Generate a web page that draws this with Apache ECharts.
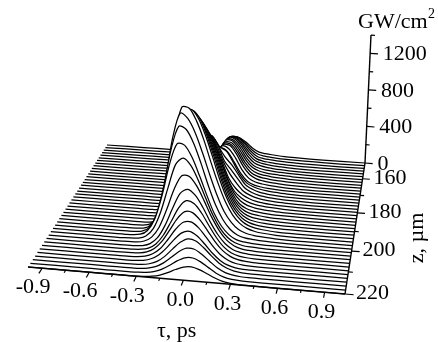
<!DOCTYPE html>
<html>
<head>
<meta charset="utf-8">
<script src="https://cdn.jsdelivr.net/npm/echarts@6/dist/echarts.min.js"></script>
<style>
  html, body { margin: 0; padding: 0; background: #fff; }
  #chart { width: 438px; height: 342px; }
</style>
</head>
<body>
<div id="chart"></div>
<script>
// tau samples, ps (the flat ends are zero in every curve)
var tauMid = [-0.4, -0.35, -0.3, -0.25, -0.2, -0.15, -0.1, -0.05, 0, 0.05, 0.1, 0.15, 0.2, 0.25, 0.3, 0.35, 0.4, 0.5]
var tauLeft = [-0.99, -0.7, -0.5]
var tauRight = [0.7, 1.03]

// z of each curve, um, front first
var zValues = [220, 218.25, 216.5, 214.75, 213, 211.25, 209.5, 207.75, 206, 204.25, 202.5, 200.75, 199, 197.25,
  195.5, 193.75, 192, 190.25, 188.5, 186.75, 185, 183.25, 181.5, 179.75, 178, 176.25, 174.5, 172.75, 171, 169.25,
  167.5, 165.75, 164, 162.25, 160.5, 158.75, 157, 155.25, 153.5, 151.75, 150]

// intensity, GW/cm2, one row per z, on tauMid
var intensity = [
  [0, 0, 1, 4, 12, 28, 56, 90, 117, 125, 107, 76, 44, 20, 8, 3, 1, 0],
  [0, 0, 2, 7, 20, 46, 87, 134, 168, 172, 143, 97, 53, 24, 9, 3, 1, 0],
  [0, 1, 3, 11, 30, 68, 124, 183, 221, 218, 176, 119, 65, 30, 12, 4, 1, 0],
  [0, 1, 5, 17, 44, 96, 168, 236, 274, 260, 206, 138, 78, 37, 15, 5, 1, 0],
  [0, 2, 9, 29, 70, 138, 222, 290, 310, 273, 203, 127, 67, 29, 11, 3, 1, 0],
  [1, 4, 14, 42, 96, 185, 285, 355, 365, 316, 233, 148, 78, 36, 14, 6, 2, 0],
  [2, 6, 21, 58, 129, 237, 350, 422, 419, 355, 262, 166, 90, 43, 18, 7, 3, 1],
  [1, 6, 23, 67, 156, 285, 421, 493, 472, 390, 277, 171, 89, 41, 18, 8, 4, 1],
  [1, 8, 32, 93, 214, 380, 526, 569, 517, 410, 279, 169, 88, 40, 18, 9, 5, 1],
  [4, 18, 60, 159, 329, 528, 661, 660, 574, 439, 294, 176, 91, 42, 18, 9, 5, 2],
  [8, 33, 108, 272, 510, 733, 799, 735, 600, 437, 280, 160, 81, 37, 17, 9, 6, 2],
  [12, 53, 171, 403, 705, 901, 891, 778, 610, 430, 265, 150, 76, 34, 18, 11, 7, 3],
  [10, 49, 180, 457, 819, 1040, 1015, 887, 700, 494, 315, 183, 95, 46, 24, 15, 10, 4],
  [7, 43, 173, 479, 900, 1140, 1094, 963, 775, 570, 381, 228, 129, 65, 36, 22, 14, 5],
  [5, 32, 143, 422, 857, 1170, 1166, 1047, 869, 655, 458, 290, 170, 93, 50, 28, 17, 6],
  [2, 12, 68, 244, 599, 994, 1128, 1053, 893, 689, 475, 299, 172, 92, 47, 26, 16, 5],
  [1, 10, 56, 212, 536, 933, 1092, 1026, 867, 666, 456, 279, 157, 82, 42, 24, 15, 5],
  [1, 8, 45, 176, 478, 853, 1040, 984, 832, 635, 427, 260, 140, 72, 36, 22, 14, 5],
  [0, 6, 38, 150, 414, 779, 985, 939, 794, 601, 401, 237, 125, 62, 32, 20, 13, 5],
  [0, 5, 30, 126, 359, 698, 924, 893, 758, 568, 369, 214, 108, 55, 30, 20, 13, 5],
  [0, 3, 23, 105, 308, 626, 854, 840, 713, 530, 339, 191, 94, 50, 30, 20, 13, 5],
  [0, 3, 19, 85, 265, 554, 790, 794, 672, 497, 314, 171, 90, 50, 31, 20, 13, 5],
  [0, 2, 17, 79, 247, 517, 737, 737, 619, 441, 270, 150, 88, 52, 32, 21, 14, 6],
  [0, 2, 13, 65, 210, 454, 675, 694, 582, 412, 245, 150, 90, 55, 33, 22, 15, 6],
  [0, 1, 10, 53, 175, 403, 614, 650, 548, 383, 260, 170, 95, 58, 35, 23, 15, 6],
  [0, 1, 7, 37, 132, 323, 537, 608, 520, 360, 275, 185, 100, 60, 36, 24, 16, 6],
  [0, 1, 6, 35, 125, 307, 510, 578, 470, 365, 290, 190, 100, 60, 36, 24, 16, 6],
  [0, 1, 5, 32, 114, 281, 466, 528, 440, 400, 290, 170, 90, 55, 35, 23, 15, 6],
  [0, 0, 0, 2, 12, 55, 165, 320, 400, 365, 262, 150, 75, 42, 28, 19, 13, 5],
  [0, 0, 0, 1, 9, 42, 135, 290, 395, 370, 280, 160, 80, 45, 29, 20, 14, 5],
  [0, 0, 0, 1, 7, 35, 120, 265, 380, 375, 290, 170, 88, 48, 31, 21, 15, 6],
  [0, 0, 0, 1, 7, 33, 115, 255, 365, 358, 278, 162, 83, 46, 30, 21, 15, 6],
  [0, 0, 0, 1, 6, 32, 112, 245, 352, 345, 262, 152, 78, 44, 29, 20, 14, 6],
  [0, 0, 0, 1, 6, 31, 108, 240, 345, 335, 250, 145, 73, 42, 28, 19, 14, 6],
  [0, 0, 0, 1, 5, 30, 104, 230, 330, 318, 238, 135, 67, 39, 26, 18, 13, 6],
  [0, 0, 0, 1, 5, 29, 100, 220, 315, 302, 225, 128, 63, 37, 25, 17, 12, 5],
  [0, 0, 0, 0, 4, 27, 94, 205, 295, 282, 210, 120, 58, 35, 24, 16, 12, 5],
  [0, 0, 0, 0, 4, 25, 86, 188, 270, 258, 192, 110, 53, 32, 23, 15, 11, 5],
  [0, 0, 0, 0, 4, 22, 78, 172, 246, 235, 175, 100, 48, 30, 22, 15, 11, 5],
  [0, 0, 0, 0, 3, 19, 68, 150, 216, 207, 154, 88, 43, 28, 20, 14, 10, 5],
  [0, 0, 0, 0, 3, 17, 59, 130, 186, 178, 133, 76, 38, 27, 19, 13, 9, 4]
]

// axis ticks
var tauMajor = [-0.9, -0.6, -0.3, 0, 0.3, 0.6, 0.9]
var tauMajorLabels = ['-0.9', '-0.6', '-0.3', '0.0', '0.3', '0.6', '0.9']
var tauMinor = [-0.75, -0.45, -0.15, 0.15, 0.45, 0.75]
var zMajor = [160, 180, 200, 220]
var zMajorLabels = ['160', '180', '200', '220']
var zMinor = [170, 190, 210]
var iMajor = [0, 400, 800, 1200]
var iMajorLabels = ['0', '400', '800', '1200']
var iMinor = [200, 600, 1000, 1400]

// floor range and where its corners sit on the page
var tauMin = -0.99, tauMax = 1.03, zBack = 150, zFront = 220
var BL = [107, 145], BR = [365, 163], FL = [28, 267], FR = [345, 294]
var persp = 1.22       // front width / back width
var scaleBack = 0.0914 // px per GW/cm2 at the back
var tilt = 0.00024     // vertical lines lean away from x = 170

function project (tau, z, val) {
  var u = (tau - tauMin) / (tauMax - tauMin)
  var v = (z - zBack) / (zFront - zBack)
  var d = v + (1 - v) * persp
  var t = v / d
  var lx = BL[0] + (FL[0] - BL[0]) * t
  var ly = BL[1] + (FL[1] - BL[1]) * t
  var rx = BR[0] + (FR[0] - BR[0]) * t
  var ry = BR[1] + (FR[1] - BR[1]) * t
  var x = lx + (rx - lx) * u
  var y = ly + (ry - ly) * u
  var h = val * scaleBack * persp / d
  return [x + h * (x - 170) * tilt, y - h]
}

var tauAll = tauLeft.concat(tauMid, tauRight)

function renderCurve (params, api) {
  var k = api.value(0)
  var row = [0, 0, 0].concat(intensity[k], [0, 0])
  var pts = tauAll.map(function (t, i) {
    return api.coord(project(t, zValues[k], row[i]))
  })
  return {
    type: 'group',
    children: [
      { type: 'polygon', shape: { points: pts, smooth: 0.3 }, style: { fill: '#fff', stroke: null } },
      { type: 'polyline', shape: { points: pts, smooth: 0.3 }, style: { fill: null, stroke: '#000', lineWidth: 1.25 } }
    ]
  }
}

function renderAxes (params, api) {
  var out = []
  function seg (a, b, w) {
    var p = api.coord(a), q = api.coord(b)
    out.push({ type: 'line', shape: { x1: p[0], y1: p[1], x2: q[0], y2: q[1] }, style: { stroke: '#000', lineWidth: w } })
  }
  function txt (s, x, y, align) {
    out.push({ type: 'text', style: { text: s, x: x, y: y, fill: '#000', align: align, verticalAlign: 'middle', font: '22px "Liberation Serif"' } })
  }
  seg(project(tauMin, zFront, 0), project(tauMax, zFront, 0), 1.4)
  seg(project(tauMax, zFront, 0), project(tauMax, zBack, 0), 1.4)
  seg(project(tauMax, zBack, 0), project(tauMax, zBack, 1400), 1.4)

  tauMajor.forEach(function (t, i) {
    var p = project(t, zFront, 0)
    seg(p, project(t, zFront + 2.4, 0), 1.2)
    txt(tauMajorLabels[i], p[0] - (t < 0 ? 9 : 3), p[1] + 19.5, 'center')
  })
  tauMinor.forEach(function (t) {
    seg(project(t, zFront, 0), project(t, zFront + 1.2, 0), 1.2)
  })
  zMajor.forEach(function (z, i) {
    var p = project(tauMax, z, 0)
    seg(p, project(tauMax + 0.055, z, 0), 1.2)
    txt(zMajorLabels[i], p[0] + 11, p[1] - 0.5, 'left')
  })
  zMinor.forEach(function (z) {
    seg(project(tauMax, z, 0), project(tauMax + 0.03, z, 0), 1.2)
  })
  iMajor.forEach(function (v, i) {
    var p = project(tauMax, zBack, v)
    seg(p, project(tauMax + 0.06, zBack, v), 1.2)
    txt(iMajorLabels[i], p[0] + 12.5, p[1] + 1, 'left')
  })
  iMinor.forEach(function (v) {
    seg(project(tauMax, zBack, v), project(tauMax + 0.03, zBack, v), 1.2)
  })
  return { type: 'group', children: out }
}

// back curves first so the front ones hide them
var curveOrder = zValues.map(function (z, i) { return [i] }).reverse()

var chart = echarts.init(document.getElementById('chart'))
chart.setOption({
  animation: false,
  backgroundColor: '#fff',
  grid: { left: 0, right: 0, top: 0, bottom: 0 },
  xAxis: { type: 'value', min: 0, max: 438, show: false },
  yAxis: { type: 'value', min: 0, max: 342, inverse: true, show: false },
  graphic: [
    { type: 'text', left: 157, top: 320, style: { text: 'τ, ps', fill: '#000', font: '22px "Liberation Serif"' } },
    { type: 'text', x: 417, y: 238, rotation: Math.PI / 2, style: { text: 'z, µm', fill: '#000', align: 'center', verticalAlign: 'middle', font: '22px "Liberation Serif"' } },
    { type: 'text', left: 358, top: 11, style: { text: 'GW/cm', fill: '#000', font: '22px "Liberation Serif"' } },
    { type: 'text', left: 428, top: 7, style: { text: '2', fill: '#000', font: '14px "Liberation Serif"' } }
  ],
  series: [
    { type: 'custom', renderItem: renderCurve, data: curveOrder, silent: true },
    { type: 'custom', renderItem: renderAxes, data: [[0]], silent: true }
  ]
})
</script>
</body>
</html>
